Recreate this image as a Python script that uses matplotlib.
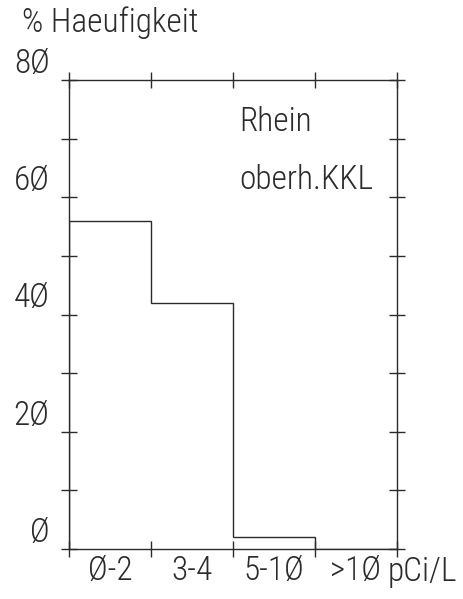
import matplotlib
matplotlib.use("Agg")
import matplotlib.pyplot as plt
from matplotlib import font_manager

categories = ["Ø-2", "3-4", "5-1Ø", ">1Ø"]
values = [56, 42, 2, 0]
ytick_values = [0, 20, 40, 60, 80]
ytick_labels = ["Ø", "2Ø", "4Ø", "6Ø", "8Ø"]
minor_yticks = [10, 30, 50, 70]
unit_label = "pCi/L"
ylabel_text = "% Haeufigkeit"
note_lines = ["Rhein", "oberh.KKL"]

names = {f.name for f in font_manager.fontManager.ttflist}
font = "DejaVu Sans"
for cand in ["Roboto Condensed", "Liberation Sans Narrow", "DejaVu Sans Condensed", "Open Sans Condensed"]:
    if cand in names:
        font = cand
        break
plt.rcParams["font.family"] = [font, "DejaVu Sans"]
plt.rcParams["font.weight"] = "light"

ink = "#2b2b2b"
fs = 24

fig = plt.figure(figsize=(4.64, 5.99), dpi=100)
ax = fig.add_axes([69/464, 50/599, 328/464, 469/599])

edges = list(range(len(values) + 1))
ax.stairs(values, edges, baseline=0, fill=False, color=ink, lw=1.0)

ax.set_xlim(0, len(values))
ax.set_ylim(0, 80)
for s in ax.spines.values():
    s.set_color(ink)
    s.set_linewidth(1.0)

ax.set_xticks(edges)
ax.set_xticklabels([])
ax.set_xticks([i + 0.5 for i in range(len(categories))], minor=True)
ax.set_xticklabels(categories, minor=True)
ax.tick_params(axis="x", which="major", direction="inout", length=12, width=1.0,
               color=ink, top=True, bottom=True)
ax.tick_params(axis="x", which="minor", length=0, pad=4, labelsize=fs, labelcolor=ink)

ax.set_yticks(ytick_values)
ax.set_yticklabels(ytick_labels)
ax.set_yticks(minor_yticks, minor=True)
ax.tick_params(axis="y", which="both", direction="inout", length=12, width=1.0,
               color=ink, left=True, right=True)
ax.tick_params(axis="y", which="major", pad=8, labelsize=fs, labelcolor=ink)
for lab in ax.get_yticklabels():
    lab.set_va("bottom")

ax.text(3.89, -0.015, unit_label, transform=ax.get_xaxis_transform(), ha="left", va="top",
        fontsize=fs, color=ink)
fig.text(22/464, 1 - 6/599, ylabel_text, ha="left", va="top", fontsize=fs, color=ink)
ax.text(2.08, 0.945, note_lines[0], transform=ax.get_xaxis_transform(), ha="left", va="top",
        fontsize=fs, color=ink)
ax.text(2.08, 0.82, note_lines[1], transform=ax.get_xaxis_transform(), ha="left", va="top",
        fontsize=fs, color=ink)

fig.savefig("out.png", dpi=100)
